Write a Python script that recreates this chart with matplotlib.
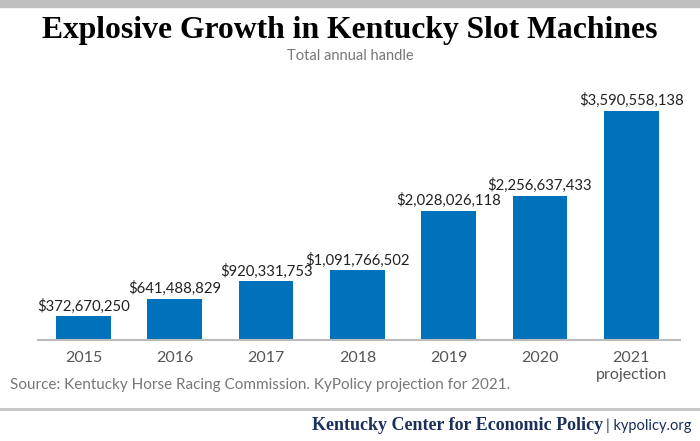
import matplotlib.pyplot as plt
from matplotlib.lines import Line2D
from matplotlib.patches import Rectangle

years = ["2015", "2016", "2017", "2018", "2019", "2020", "2021\nprojection"]
handle = [372670250, 641488829, 920331753, 1091766502, 2028026118, 2256637433, 3590558138]

blue = "#0072bc"
navy = "#1b2f5b"

fig = plt.figure(figsize=(7, 4.41), dpi=100)
ax = fig.add_axes([0.054, 0.229, 0.917, 0.578])

x = range(len(years))
ax.bar(x, handle, width=0.6, color=blue, zorder=2)
for i, v in enumerate(handle):
    ax.text(i, v + 45e6, "${:,}".format(v), ha="center", va="bottom",
            fontsize=10.7, family="Lato", color="#222222")

ax.set_xlim(-0.5, 6.53)
ax.set_ylim(0, 4.0e9)
ax.set_xticks(list(x))
ax.set_xticklabels(years, fontsize=11.5, family="Lato", color="#555555",
                   linespacing=1.3)
ax.tick_params(axis="x", length=0, pad=8)
ax.set_yticks([])
for s in ["top", "right", "left"]:
    ax.spines[s].set_visible(False)
ax.spines["bottom"].set_color("#bbbbbb")
ax.spines["bottom"].set_linewidth(1.5)

# header band and title
fig.patches.append(Rectangle((0, 1 - 7 / 441), 1, 7 / 441, transform=fig.transFigure,
                             color="#bfbfbf", zorder=0))
fig.text(0.5, 0.931, "Explosive Growth in Kentucky Slot Machines", ha="center",
         va="center", fontsize=22.8, fontweight="bold", family="Liberation Serif")
fig.text(0.5, 0.873, "Total annual handle", ha="center", va="center",
         fontsize=10.5, family="Lato", color="#777777")

# source and footer
fig.text(0.014, 0.128, "Source: Kentucky Horse Racing Commission. KyPolicy projection for 2021.",
         ha="left", va="center", fontsize=11, family="Lato", color="#777777")
fig.lines.append(Line2D([0, 1], [0.072, 0.072], transform=fig.transFigure,
                        color="#c4c4c4", linewidth=2))
fig.text(0.862, 0.035, "Kentucky Center for Economic Policy", ha="right", va="center",
         fontsize=13, fontweight="bold", family="Liberation Serif", color=navy)
fig.text(0.866, 0.035, "| kypolicy.org", ha="left", va="center",
         fontsize=10.5, family="Lato", color=navy)

fig.savefig("out.png", dpi=100)
